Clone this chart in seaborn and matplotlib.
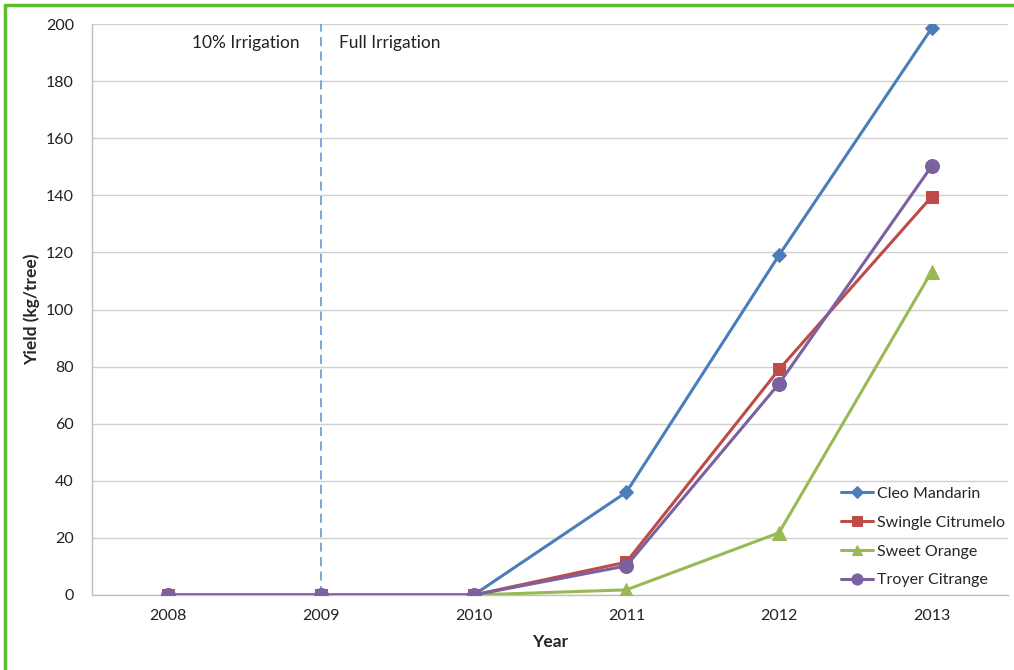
import matplotlib
matplotlib.use("Agg")
import matplotlib.pyplot as plt
from matplotlib.lines import Line2D
import seaborn as sns
import pandas as pd

years = ["2008", "2009", "2010", "2011", "2012", "2013"]
cleo_mandarin = [0, 0, 0, 36, 119, 198.5]
swingle_citrumelo = [0, 0, 0, 11.5, 79, 139.5]
sweet_orange = [0, 0, 0, 1.8, 21.8, 113.3]
troyer_citrange = [0, 0, 0, 10.2, 74, 150.2]

series_names = ["Cleo Mandarin", "Swingle Citrumelo", "Sweet Orange", "Troyer Citrange"]
series_values = [cleo_mandarin, swingle_citrumelo, sweet_orange, troyer_citrange]
colors = ["#4A7EBB", "#BE4B48", "#98B954", "#7D60A0"]
markers = ["D", "s", "^", "o"]
msizes = [7.5, 8.5, 9.5, 10]

rows = []
for name, vals in zip(series_names, series_values):
    for i, v in enumerate(vals):
        rows.append({"pos": i, "Year": years[i], "Yield": v, "Series": name})
df = pd.DataFrame(rows)

sns.set_theme(style="white")
plt.rcParams["font.family"] = ["Lato", "DejaVu Sans"]

fig = plt.figure(figsize=(10.14, 6.70), dpi=100)
W, H = 1014, 670
ax = fig.add_axes([92 / W, (H - 595) / H, (1008 - 92) / W, (595 - 24) / H])

for name, col, mk, ms in zip(series_names, colors, markers, msizes):
    sub = df[df["Series"] == name]
    sns.lineplot(data=sub, x="pos", y="Yield", ax=ax, color=col, marker=mk,
                 markersize=ms, markeredgecolor=col, linewidth=2.2, label=name,
                 zorder=3)

ax.set_xlim(-0.5, 5.5)
ax.set_ylim(0, 200)
ax.set_yticks(range(0, 201, 20))
ax.set_xticks(range(len(years)))
ax.set_xticklabels(years)
ax.set_xticks([i - 0.5 for i in range(len(years) + 1)], minor=True)
ax.tick_params(axis="x", which="major", length=0, pad=10, labelsize=11.5, colors="#222222")
ax.tick_params(axis="x", which="minor", length=5, color="#bfbfbf", width=1)
ax.tick_params(axis="y", which="major", length=5, color="#bfbfbf", width=1,
               labelsize=11.5, pad=8, colors="#222222")
ax.yaxis.grid(True, color="#d0d0d0", linewidth=1)
ax.set_axisbelow(True)
for s in ["top", "right"]:
    ax.spines[s].set_visible(False)
for s in ["left", "bottom"]:
    ax.spines[s].set_color("#bfbfbf")
    ax.spines[s].set_linewidth(1)

ax.set_xlabel("Year", fontsize=12.5, fontweight="bold", labelpad=8)
ax.set_ylabel("Yield (kg/tree)", fontsize=12.5, fontweight="bold", labelpad=4)

ax.axvline(1, color="#6fa3d6", linestyle=(0, (5, 3)), linewidth=1.3, zorder=2)
ax.text(0.86, 193.5, "10% Irrigation", ha="right", va="center", fontsize=12.5, color="#222222")
ax.text(1.12, 193.5, "Full Irrigation", ha="left", va="center", fontsize=12.5, color="#222222")

leg = ax.legend(loc="lower right", bbox_to_anchor=(1.012, -0.012), frameon=False,
                fontsize=11.5, handlelength=2.0, labelspacing=0.92, handletextpad=0.2,
                markerscale=0.8)

# green frame around the chart
green = "#5DBE2C"
fig.add_artist(Line2D([5 / W, 5 / W], [0, 1 - 5 / H], transform=fig.transFigure,
                      color=green, linewidth=2.5))
fig.add_artist(Line2D([5 / W, 1], [1 - 5 / H, 1 - 5 / H], transform=fig.transFigure,
                      color=green, linewidth=2.5))

fig.savefig("out.png", dpi=100)
